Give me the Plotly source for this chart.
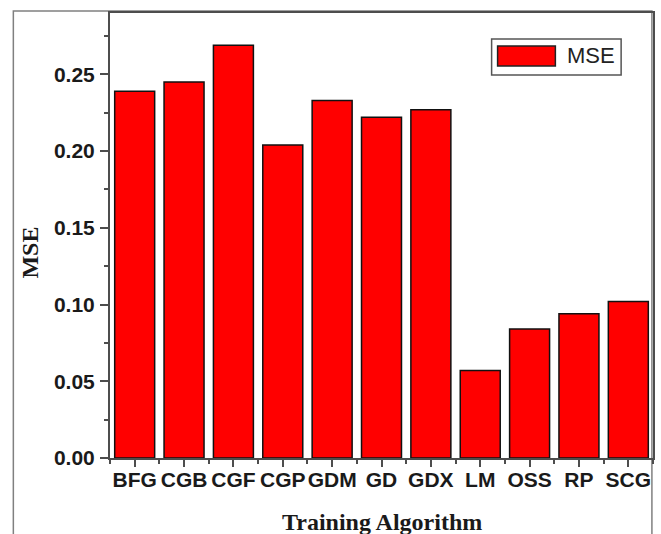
import plotly.graph_objects as go

# Mean squared error for each neural-network training algorithm
algorithms = ["BFG", "CGB", "CGF", "CGP", "GDM", "GD", "GDX", "LM", "OSS", "RP", "SCG"]
mse_values = [0.239, 0.245, 0.269, 0.204, 0.233, 0.222, 0.227, 0.057, 0.084, 0.094, 0.102]
y_ticks = [0.00, 0.05, 0.10, 0.15, 0.20, 0.25]

positions = list(range(len(algorithms)))

AXIS_COLOR = "#4d4d4d"
TICK_FONT = dict(family="Liberation Sans, Arial, sans-serif", size=21, color="#1a1a1a", weight="bold")
TITLE_FONT = dict(family="Liberation Serif, Times New Roman, serif", size=24, color="#1a1a1a", weight="bold")

fig = go.Figure(
    go.Bar(
        x=positions,
        y=mse_values,
        name="MSE",
        marker=dict(color="#ff0000", line=dict(color="#111111", width=1.5)),
        showlegend=False,
    )
)

fig.update_layout(
    width=661,
    height=534,
    margin=dict(l=110, r=6, t=13, b=76),
    paper_bgcolor="white",
    plot_bgcolor="white",
    bargap=0.19,
    xaxis=dict(
        range=[-0.5, len(algorithms) - 0.5],
        tickmode="array",
        tickvals=positions,
        ticktext=algorithms,
        tickfont=TICK_FONT,
        ticks="outside",
        ticklen=7,
        tickwidth=1.5,
        tickcolor=AXIS_COLOR,
        minor=dict(ticks="outside", tick0=0.5, dtick=1, ticklen=4, tickwidth=1.5, tickcolor=AXIS_COLOR),
        showline=True,
        linecolor=AXIS_COLOR,
        linewidth=2,
        mirror=True,
        showgrid=False,
        zeroline=False,
        ticklabelstandoff=-5,
    ),
    yaxis=dict(
        range=[0, 0.29],
        tickmode="array",
        tickvals=y_ticks,
        tickformat=".2f",
        tickfont=TICK_FONT,
        ticks="outside",
        ticklen=8,
        tickwidth=1.5,
        tickcolor=AXIS_COLOR,
        minor=dict(ticks="outside", tick0=0.025, dtick=0.05, ticklen=4, tickwidth=1.5, tickcolor=AXIS_COLOR),
        showline=True,
        linecolor=AXIS_COLOR,
        linewidth=2,
        mirror=True,
        showgrid=False,
        zeroline=False,
        ticklabelstandoff=1,
    ),
    shapes=[
        # outer frame around the whole figure
        dict(type="rect", xref="paper", yref="paper", x0=-0.178, x1=0.998, y0=-0.3, y1=1.0045,
             line=dict(color="#808080", width=1.5), fillcolor="rgba(0,0,0,0)", layer="below"),
        # legend box and swatch
        dict(type="rect", xref="paper", yref="paper", x0=0.7028, x1=0.9413, y0=0.8607, y1=0.9416,
             line=dict(color="#555555", width=1.5), fillcolor="white"),
        dict(type="rect", xref="paper", yref="paper", x0=0.7138, x1=0.8202, y0=0.8809, y1=0.9258,
             line=dict(color="#222222", width=1.5), fillcolor="#ff0000"),
    ],
    annotations=[
        dict(text="MSE", xref="paper", yref="paper", x=0.8385, y=0.9034, xanchor="left", yanchor="middle",
             showarrow=False, font=dict(family="Liberation Sans, Arial, sans-serif", size=22, color="#222222")),
        dict(text="Training Algorithm", xref="paper", yref="paper", x=0.5, y=-0.143, xanchor="center",
             yanchor="middle", showarrow=False, font=TITLE_FONT),
        dict(text="MSE", xref="paper", yref="paper", x=-0.147, y=0.462, xanchor="center", yanchor="middle",
             textangle=-90, showarrow=False, font=TITLE_FONT),
    ],
)

fig.write_html("out.html")
